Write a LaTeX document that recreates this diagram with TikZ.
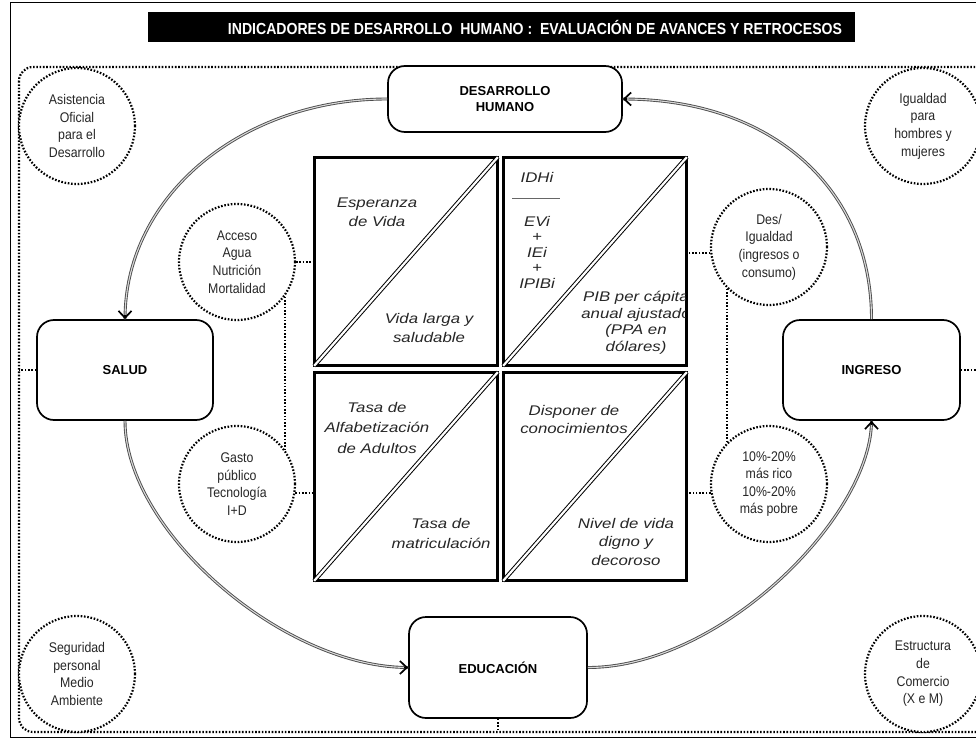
\documentclass[tikz,border=0pt]{standalone}
\usepackage{fontspec}
\setmainfont{Liberation Sans}
\newfontfamily\bubblefont[FakeStretch=0.88]{Liberation Sans}
\newfontfamily\panelfont[FakeStretch=1.2]{Liberation Sans}
\newfontfamily\bannerfont[FakeStretch=0.88]{Liberation Sans}
\usetikzlibrary{arrows.meta,calc}

\begin{document}
\begin{tikzpicture}[x=1pt,y=-1pt,
  dotline/.style={line width=2.2pt, dash pattern=on 1.6pt off 1.7pt},
  bubble/.style={circle, draw, dotline, fill=white, minimum size=116pt, inner sep=0pt,
    align=center, text=black!85, font=\bubblefont\fontsize{14}{17.6}\selectfont},
  hub/.style={draw, line width=1.7pt, rounded corners=17pt, fill=white, inner sep=0pt,
    align=center, font=\bfseries\fontsize{13}{16}\selectfont},
  panel/.style={draw, line width=1.7pt, minimum width=182pt, minimum height=207pt, inner sep=0pt},
  diag/.style={draw=black, line width=1pt, double=white, double distance=2.2pt},
  ptext/.style={align=center, inner sep=0pt, text=black!85,
    font=\panelfont\itshape\fontsize{14}{#1}\selectfont},
  flow/.style={draw=black!70, line width=0.9pt, double=white!85!black, double distance=1.1pt},
  tip/.style={-{Straight Barb[length=7pt, width=13pt]}, line width=1.7pt, black},
]
\useasboundingbox (0,0) rectangle (976,738);
\clip (0,0) rectangle (976,738);

% outer frame and title banner
\draw[line width=0.8pt] (10.5,2.5) rectangle (995,737);
\fill[black] (148,12) rectangle (855,42);
\node[text=white, inner sep=0pt, font=\bannerfont\bfseries\fontsize{16}{18}\selectfont] (title) at (535,27)
  {INDICADORES DE DESARROLLO \ HUMANO : \ EVALUACIÓN DE AVANCES Y RETROCESOS};

% dotted surround
\coordinate (fNW) at (19,67);
\coordinate (fSE) at (990,732);
\draw[dotline, rounded corners=14pt] (fNW) rectangle (fSE);

% corner bubbles
\node[bubble] (aod)    at (77,126)  {Asistencia\\Oficial\\para el\\Desarrollo};
\node[bubble] (igual)  at (923,126) {Igualdad\\para\\hombres y\\mujeres};
\node[bubble] (segur)  at (77,674)  {Seguridad\\personal\\Medio\\Ambiente};
\node[bubble] (comer)  at (923,674) {Estructura\\de\\Comercio\\(X e M)};

% inner bubbles
\node[bubble] (acceso) at (237,262) {Acceso\\Agua\\Nutrición\\Mortalidad};
\node[bubble] (gasto)  at (237,484) {Gasto\\público\\Tecnología\\I+D};
\node[bubble] (desig)  at (769,247) {Des/\\Igualdad\\(ingresos o\\consumo)};
\node[bubble] (decil)  at (769,484) {10\%-20\%\\más rico\\10\%-20\%\\más pobre};

% hubs
\node[hub, minimum width=234pt, minimum height=66pt] (dh)      at (505,99)    {DESARROLLO\\HUMANO};
\node[hub, minimum width=176pt, minimum height=100pt] (salud)  at (125,370)   {SALUD};
\node[hub, minimum width=177pt, minimum height=100pt] (ingreso) at (871.5,370) {INGRESO};
\node[hub, minimum width=178pt, minimum height=101pt] (educ)   at (498,667.5) {EDUCACIÓN};

% cycle of flows
\draw[flow] (dh.west) .. controls +(-143,0) and +(0,-125) .. (salud.north);
\draw[tip] ($(salud.north)+(0,-4)$) -- (salud.north);
\draw[flow] (salud.south) .. controls +(0,110) and +(-125,0) .. (educ.west);
\draw[tip] ($(educ.west)+(-4,0)$) -- (educ.west);
\draw[flow] (educ.east) .. controls +(133,0) and +(0,95) .. (ingreso.south);
\draw[tip] ($(ingreso.south)+(0,4)$) -- (ingreso.south);
\draw[flow] (ingreso.north) .. controls +(0,-130) and +(150,0) .. (dh.east);
\draw[tip] ($(dh.east)+(4,0)$) -- (dh.east);

% index panels
\node[panel] (sqTL) at (406,261.5) {};
\node[panel] (sqTR) at (595,261.5) {};
\node[panel] (sqBL) at (406,476.5) {};
\node[panel] (sqBR) at (595,476.5) {};

\node[ptext=19] at (377,212.5) {Esperanza\\de Vida};
\node[ptext=19] at (429,327.5) {Vida larga y\\saludable};
\node[ptext=15.5] (idh) at (537,177) {IDHi};
\draw[black!60, line width=0.8pt] (512,198) -- (560,198);
\node[ptext=15.5] at (537,252) {EVi\\+\\IEi\\+\\IPIBi};
\begin{scope}
  \clip (sqTR.south west) rectangle (sqTR.north east);
  \node[ptext=16.5] at (636,323) {PIB per cápita\\anual ajustado\\(PPA en\\dólares)};
\end{scope}
\node[ptext=20.5] at (377,427.5) {Tasa de\\Alfabetización\\de Adultos};
\node[ptext=20] at (441,533) {Tasa de\\matriculación};
\node[ptext=18] at (574,419) {Disponer de\\conocimientos};
\node[ptext=18.5] at (626,541.5) {Nivel de vida\\digno y\\decoroso};

% panel borders and diagonals on top of the texts
\foreach \p in {sqTL,sqTR,sqBL,sqBR}{
  \draw[line width=1.7pt] (\p.south west) rectangle (\p.north east);
  \draw[diag] (\p.south west) -- (\p.north east);
}

% dotted links
\draw[dotline] (salud.west) -- (salud.west -| fNW);
\draw[dotline] (ingreso.east) -- (ingreso.east -| fSE);
\draw[dotline] (educ.south) -- (educ.south |- fSE);
\draw[dotline] (acceso.east) -- (acceso.east -| sqTL.west);
\draw[dotline] (gasto.-9) -- (gasto.-9 -| sqBL.west);
\draw[dotline] (acceso.-36) -- (gasto.36);
\draw[dotline] (desig.186) -- (desig.186 -| sqTR.east);
\draw[dotline] (decil.189) -- (decil.189 -| sqBR.east);
\draw[dotline] (desig.225) -- (decil.135);
\end{tikzpicture}
\end{document}
